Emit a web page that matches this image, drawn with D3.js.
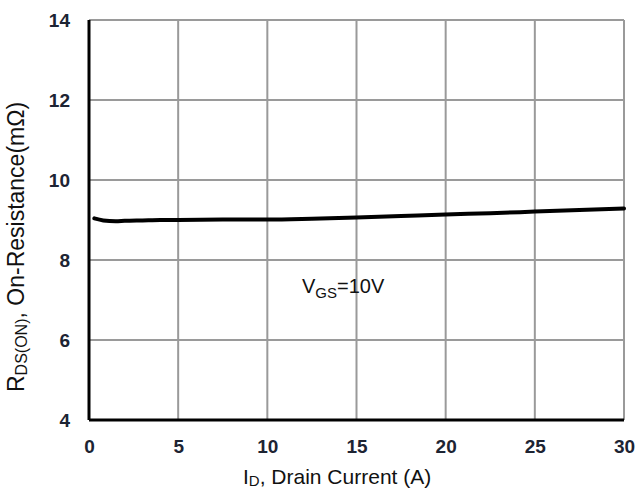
<!DOCTYPE html>
<html>
<head>
<meta charset="utf-8">
<script src="https://cdn.jsdelivr.net/npm/d3@7"></script>
<style>
  body { margin: 0; background: #fff; }
  text { font-family: Arial, "Liberation Sans", sans-serif; }
</style>
</head>
<body>
<svg id="chart" width="639" height="492"></svg>
<script>
// drain current (A) vs on-resistance (mOhm)
var current = [0.3, 0.8, 1.5, 2, 3, 4, 5, 7.5, 10, 12.5, 15, 17.5, 20, 22.5, 25, 27.5, 30]
var resistance = [9.04, 8.99, 8.97, 8.98, 8.99, 9.0, 9.0, 9.01, 9.01, 9.03, 9.06, 9.1, 9.14, 9.17, 9.21, 9.25, 9.29]
var xTicks = [0, 5, 10, 15, 20, 25, 30]
var yTicks = [4, 6, 8, 10, 12, 14]

var margin = { left: 89, top: 20, right: 15, bottom: 72 }
var width = 639 - margin.left - margin.right
var height = 492 - margin.top - margin.bottom

var svg = d3.select('#chart')
var g = svg.append('g').attr('transform', `translate(${margin.left},${margin.top})`)

var x = d3.scaleLinear().domain([0, 30]).range([0, width])
var y = d3.scaleLinear().domain([4, 14]).range([height, 0])

// grid
g.selectAll('.vgrid').data(xTicks.slice(1)).enter().append('line')
  .attr('x1', d => x(d)).attr('x2', d => x(d))
  .attr('y1', 0).attr('y2', height)
  .attr('stroke', '#9a9a9a').attr('stroke-width', 2)
g.selectAll('.hgrid').data(yTicks.slice(1)).enter().append('line')
  .attr('x1', 0).attr('x2', width)
  .attr('y1', d => y(d)).attr('y2', d => y(d))
  .attr('stroke', '#9a9a9a').attr('stroke-width', 2)

// axes
var xAxis = g.append('g').attr('transform', `translate(0,${height})`)
  .call(d3.axisBottom(x).tickValues(xTicks).tickSize(0).tickPadding(20))
var yAxis = g.append('g')
  .call(d3.axisLeft(y).tickValues(yTicks).tickSize(0).tickPadding(19))
;[xAxis, yAxis].forEach(a => {
  a.select('.domain').attr('stroke', '#000').attr('stroke-width', 3)
  a.selectAll('text').attr('font-size', 19).attr('font-weight', 'bold')
    .attr('fill', '#1d2433').attr('font-family', 'Arial, "Liberation Sans", sans-serif')
})
xAxis.select('.domain').attr('d', `M0,0H${width}`)
yAxis.select('.domain').attr('d', `M0,0V${height}`)

// curve
var line = d3.line()
  .curve(d3.curveMonotoneX)
  .x((d, i) => x(current[i]))
  .y(d => y(d))
g.append('path')
  .datum(resistance)
  .attr('fill', 'none')
  .attr('stroke', '#000')
  .attr('stroke-width', 4)
  .attr('stroke-linecap', 'round')
  .attr('d', line)

// annotation
var ann = g.append('text').attr('x', 302 - margin.left).attr('y', 293 - margin.top)
  .attr('font-size', 20).attr('fill', '#111')
ann.append('tspan').text('V')
ann.append('tspan').attr('font-size', 15).attr('dy', 5).text('GS')
ann.append('tspan').attr('dy', -5).text('=10V')

// x title
var xt = svg.append('text').attr('x', 243).attr('y', 484)
  .attr('font-size', 21).attr('fill', '#111')
xt.append('tspan').text('I')
xt.append('tspan').attr('font-size', 15).attr('dy', 2).text('D')
xt.append('tspan').attr('dy', -2).text(', Drain Current (A)')

// y title
var yt = svg.append('text')
  .attr('transform', `translate(24,392) rotate(-90)`)
  .attr('font-size', 23).attr('fill', '#111')
yt.append('tspan').text('R')
yt.append('tspan').attr('font-size', 16).attr('dy', 3).text('DS(ON)')
yt.append('tspan').attr('dy', -3).text(', On-Resistance(mΩ)')
</script>
</body>
</html>
